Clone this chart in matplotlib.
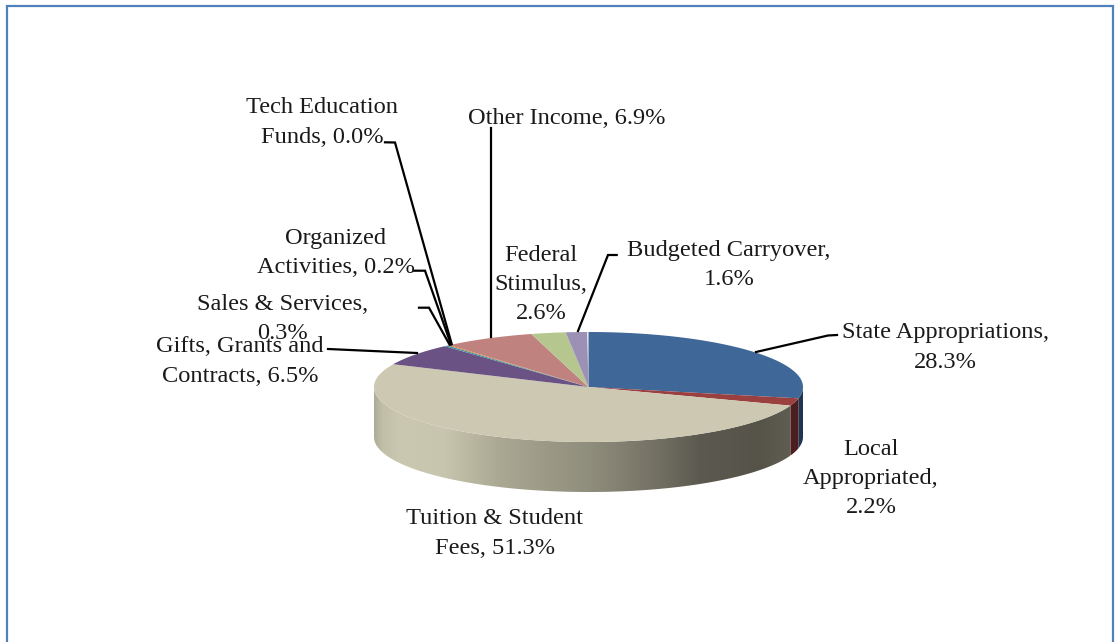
#!/usr/bin/env python3
"""Budgeted revenue sources as a tilted 3D-look pie."""

import matplotlib

matplotlib.use("Agg")
import matplotlib.pyplot as plt
import numpy as np
from matplotlib.colors import LinearSegmentedColormap

WIDTH, HEIGHT = 1118, 642

categories = [
    "State Appropriations",
    "Local Appropriated",
    "Tuition & Student Fees",
    "Gifts, Grants and Contracts",
    "Sales & Services",
    "Organized Activities",
    "Tech Education Funds",
    "Other Income",
    "Federal Stimulus",
    "Budgeted Carryover",
]
shares = [28.3, 2.2, 51.3, 6.5, 0.3, 0.2, 0.0, 6.9, 2.6, 1.6]
top_colors = ["#3f6797", "#9a403e", "#ccc8b1", "#6a5285", "#3e93a8", "#d9853c", "#2c4d75", "#c0827e", "#b5c78e", "#9c91b5"]

label_texts = [
    "State Appropriations,\n28.3%",
    "Local\nAppropriated,\n2.2%",
    "Tuition & Student\nFees, 51.3%",
    "Gifts, Grants and\nContracts, 6.5%",
    "Sales & Services,\n0.3%",
    "Organized\nActivities, 0.2%",
    "Tech Education\nFunds, 0.0%",
    "Other Income, 6.9%",
    "Federal\nStimulus,\n2.6%",
    "Budgeted Carryover,\n1.6%",
]
label_xy = [
    (945, 347.5), (871, 478.5), (495, 533.5), (240, 361.5), (283, 319),
    (336, 253), (322, 122.5), (567, 118), (541, 284.5), (729, 265),
]
leaders = [
    [(837, 335), (828, 335.5), (756, 352)],
    [(328, 349), (417, 353)],
    [(419, 307.7), (429, 307.7), (449.5, 344.5)],
    [(414, 270.7), (425, 270.7), (451, 344.5)],
    [(385, 142.3), (395, 142.5), (451.7, 344)],
    [(490.7, 128), (490.7, 337)],
    [(616.7, 255), (608, 255), (578, 331)],
]

CX, CY, RX, RY, DEPTH = 588.5, 387, 214.5, 55, 50

side_stops = [
    (374, "#afad98"), (382, "#c2bfa9"), (400, "#cbc8b1"), (445, "#c8c5ae"), (500, "#aaa792"),
    (590, "#8f8d7c"), (650, "#777467"), (700, "#5c5950"), (760, "#565349"), (790, "#5f5c52"),
]
local_side = "#4a1f1e"
state_side = "#1f3552"


def arc(start_deg, end_deg, dy=0.0):
    # angles run clockwise from twelve o'clock, as in the pie
    t = np.radians(np.linspace(start_deg, end_deg, max(int(abs(end_deg - start_deg) * 3), 2)))
    return np.column_stack((CX + RX * np.sin(t), CY + dy - RY * np.cos(t)))


def side_poly(start_deg, end_deg):
    return np.vstack((arc(start_deg, end_deg), arc(end_deg, start_deg, DEPTH)))


def main():
    fig = plt.figure(figsize=(WIDTH / 100, HEIGHT / 100), dpi=100)
    ax = fig.add_axes([0, 0, 1, 1])
    ax.set_xlim(0, WIDTH)
    ax.set_ylim(HEIGHT, 0)
    ax.axis("off")

    # outer frame, open at the bottom
    ax.plot([7, 7, 1113, 1113], [HEIGHT, 6, 6, HEIGHT], color="#4f81bd", lw=1.6, solid_joinstyle="miter")

    edges = np.concatenate(([0.0], np.cumsum(shares))) * 3.6

    # rim of the front half
    ax.fill(*side_poly(90, edges[1]).T, color=state_side, lw=0)
    ax.fill(*side_poly(edges[1], edges[2]).T, color=local_side, lw=0)
    xs = [s[0] for s in side_stops]
    cmap = LinearSegmentedColormap.from_list(
        "rim", [((x - xs[0]) / (xs[-1] - xs[0]), c) for x, c in side_stops]
    )
    poly = ax.fill(*side_poly(edges[2], 270).T, color="none", lw=0)[0]
    img = ax.imshow(
        np.linspace(0, 1, 512)[None, :], cmap=cmap, aspect="auto",
        extent=(xs[0], xs[-1], CY + RY + DEPTH + 2, CY - 2), zorder=1,
    )
    img.set_clip_path(poly)
    ax.set_xlim(0, WIDTH)
    ax.set_ylim(HEIGHT, 0)

    for start, end, color in zip(edges[:-1], edges[1:], top_colors):
        if end - start <= 0:
            continue
        ax.fill(*np.vstack(([(CX, CY)], arc(start, end))).T, color=color, lw=0, zorder=2)

    for pts in leaders:
        ax.plot(*np.array(pts).T, color="black", lw=1.6, zorder=3, solid_joinstyle="miter")

    for text, (x, y) in zip(label_texts, label_xy):
        ax.text(x, y, text, family="Liberation Serif", fontsize=17.6, color="#1a1a1a",
                ha="center", va="center", multialignment="center", linespacing=1.52, zorder=4)

    fig.savefig("out.png", dpi=100)
    plt.close(fig)
    print(dict(zip(categories, shares)))
    return 0


if __name__ == "__main__":
    raise SystemExit(main())
